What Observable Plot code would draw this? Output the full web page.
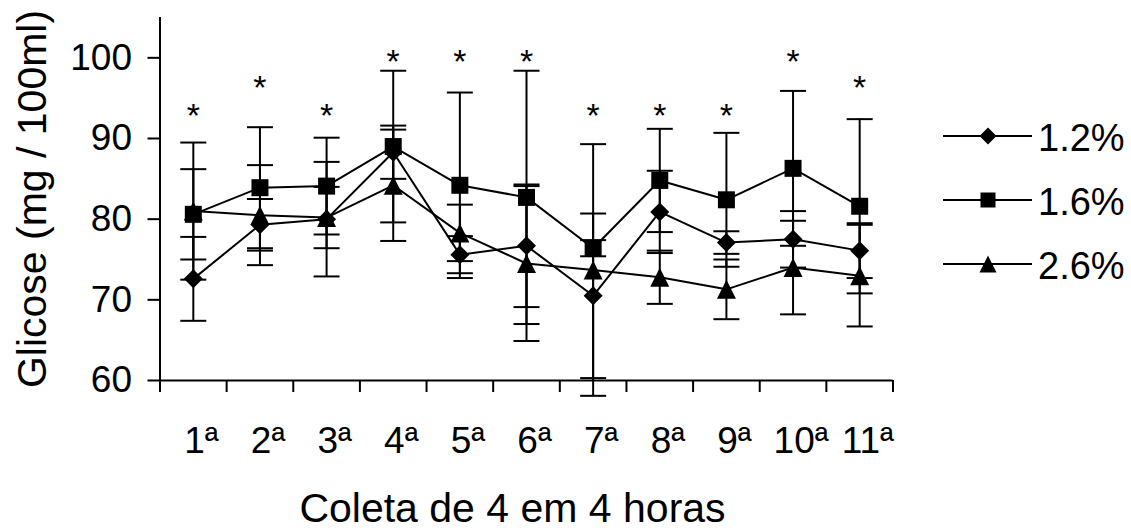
<!DOCTYPE html>
<html>
<head>
<meta charset="utf-8">
<script src="https://cdn.jsdelivr.net/npm/d3@7"></script>
<script src="https://cdn.jsdelivr.net/npm/@observablehq/plot@0.6"></script>
<style>
  html, body { margin: 0; padding: 0; background: #fff; }
  #wrap { position: relative; width: 1131px; height: 531px; font-family: "Liberation Sans", Arial, sans-serif; }
  #legend { position: absolute; left: 943px; top: 104px; }
  .row { display: flex; align-items: center; height: 64px; }
  .row svg { display: block; }
  .row span { font-size: 38px; line-height: 1; color: #000; margin-left: 5px; position: relative; top: 2px; }
</style>
</head>
<body>
<div id="wrap"></div>
<script>
// ---- data ----
const categories = ["1ª","2ª","3ª","4ª","5ª","6ª","7ª","8ª","9ª","10ª","11ª"];
const seriesNames = ["1.2%", "1.6%", "2.6%"];
const mean12 = [72.6, 79.3, 80.0, 88.3, 75.6, 76.7, 70.5, 80.9, 77.1, 77.5, 76.1];
const sd12   = [5.2, 3.2, 7.1, 3.3, 2.3, 7.6, 10.2, 5.1, 1.4, 3.5, 3.4];
const mean16 = [80.6, 83.9, 84.1, 89.0, 84.2, 82.7, 76.4, 84.8, 82.4, 86.3, 81.6];
const sd16   = [5.6, 7.5, 6.0, 9.4, 11.5, 15.7, 1.0, 6.4, 8.3, 9.6, 10.8];
const mean26 = [81.0, 80.5, 80.2, 84.2, 78.3, 74.5, 73.7, 72.8, 71.3, 74.0, 73.0];
const sd26   = [8.5, 6.2, 3.8, 6.9, 3.5, 9.6, 15.6, 3.3, 3.7, 5.8, 6.3];
const starLevels = [93.8, 97.2, 93.8, 100.5, 100.5, 100.5, 93.8, 93.8, 93.8, 100.5, 97.2];
const yTicks = [60, 70, 80, 90, 100];
const yTitle = "Glicose (mg / 100ml)";
const xTitle = "Coleta de 4 em 4 horas";

// ---- symbols (sqrt(size) = box width) ----
const symSquare = {draw(c, s){const h=Math.sqrt(s)/2; c.moveTo(-h,-h); c.lineTo(h,-h); c.lineTo(h,h); c.lineTo(-h,h); c.closePath();}};
const symDiamond = {draw(c, s){const h=Math.sqrt(s)/2; c.moveTo(0,-h); c.lineTo(h,0); c.lineTo(0,h); c.lineTo(-h,0); c.closePath();}};
const symTriangle = {draw(c, s){const h=Math.sqrt(s)/2; c.moveTo(0,-h); c.lineTo(h,h); c.lineTo(-h,h); c.closePath();}};
const symCap = {draw(c, s){const h=Math.sqrt(s)/2; c.moveTo(-h,0); c.lineTo(h,0);}};
const rOf = w => w / Math.sqrt(Math.PI);

const seriesDefs = [
  {name: seriesNames[0], mean: mean12, sd: sd12, symbol: symDiamond, w: 19},
  {name: seriesNames[1], mean: mean16, sd: sd16, symbol: symSquare, w: 17},
  {name: seriesNames[2], mean: mean26, sd: sd26, symbol: symTriangle, w: 19}
];

const table = seriesDefs.flatMap(s => categories.map((c, i) => ({
  series: s.name, x: i + 1, label: c, mean: s.mean[i], sd: s.sd[i]
})));
const boundaries = d3.range(0.5, categories.length + 1, 1);

const chart = Plot.plot({
  width: 1131,
  height: 531,
  marginLeft: 159.5,
  marginRight: 238.5,
  marginTop: 17,
  marginBottom: 151,
  style: {fontFamily: "Liberation Sans, Arial, sans-serif", fontSize: "37px", color: "#000", background: "#fff"},
  x: {domain: [0.5, categories.length + 0.5], axis: null},
  y: {domain: [60, 105], axis: null},
  marks: [
    Plot.axisY({ticks: yTicks, tickSize: 12, tickPadding: 16, strokeWidth: 2, label: null, tickFormat: d => d}),
    Plot.axisX({ticks: boundaries, tickSize: 12, strokeWidth: 2, label: null, tickFormat: () => ""}),
    Plot.ruleX([0.5], {stroke: "#000", strokeWidth: 2}),
    Plot.ruleY([60], {stroke: "#000", strokeWidth: 2}),
    // error bars
    Plot.ruleX(table, {x: "x", y1: d => d.mean - d.sd, y2: d => d.mean + d.sd, stroke: "#000", strokeWidth: 2}),
    Plot.dot(table, {x: "x", y: d => d.mean + d.sd, symbol: symCap, r: rOf(26), stroke: "#000", strokeWidth: 2, fill: "none"}),
    Plot.dot(table, {x: "x", y: d => d.mean - d.sd, symbol: symCap, r: rOf(26), stroke: "#000", strokeWidth: 2, fill: "none"}),
    // lines
    Plot.line(table, {x: "x", y: "mean", z: "series", stroke: "#000", strokeWidth: 2}),
    // markers
    ...seriesDefs.map(s => Plot.dot(table.filter(d => d.series === s.name), {
      x: "x", y: "mean", symbol: s.symbol, r: rOf(s.w), fill: "#000", stroke: "none"
    })),
    // significance stars
    Plot.text(categories, {x: (d, i) => i + 1, y: (d, i) => starLevels[i], text: () => "*", fontSize: 34, lineAnchor: "bottom", dy: 19}),
    // x category labels
    Plot.text(categories, {x: (d, i) => i + 1, text: d => d, frameAnchor: "bottom", lineAnchor: "bottom", dy: 72, dx: 8, fontSize: 37, ariaLabel: "x-labels"}),
    // axis titles
    Plot.text([yTitle], {text: d => d, frameAnchor: "left", textAnchor: "middle", rotate: -90, lineAnchor: "middle", dx: -127, fontSize: 41}),
    Plot.text([xTitle], {text: d => d, frameAnchor: "bottom", lineAnchor: "bottom", dy: 141, dx: -14, fontSize: 41})
  ]
});

// superscript ordinal indicator on x labels
chart.querySelectorAll('g[aria-label="x-labels"] text').forEach(t => {
  const s = t.textContent;
  if (s.endsWith("ª")) {
    t.textContent = s.slice(0, -1);
    const ts = document.createElementNS("http://www.w3.org/2000/svg", "tspan");
    ts.setAttribute("font-size", "27");
    ts.setAttribute("dy", "-10");
    ts.textContent = "a";
    t.appendChild(ts);
  }
});

const wrap = document.getElementById("wrap");
wrap.appendChild(chart);

// legend
const legend = document.createElement("div");
legend.id = "legend";
seriesDefs.forEach(s => {
  const row = document.createElement("div");
  row.className = "row";
  const svg = d3.create("svg").attr("width", 90).attr("height", 30);
  svg.append("line").attr("x1", 0).attr("x2", 89).attr("y1", 15).attr("y2", 15).attr("stroke", "#000").attr("stroke-width", 2);
  svg.append("path").attr("transform", "translate(45,15)").attr("d", d3.symbol(s.symbol, (s.w - 2) * (s.w - 2))()).attr("fill", "#000");
  row.appendChild(svg.node());
  const span = document.createElement("span");
  span.textContent = s.name;
  row.appendChild(span);
  legend.appendChild(row);
});
wrap.appendChild(legend);
</script>
</body>
</html>
